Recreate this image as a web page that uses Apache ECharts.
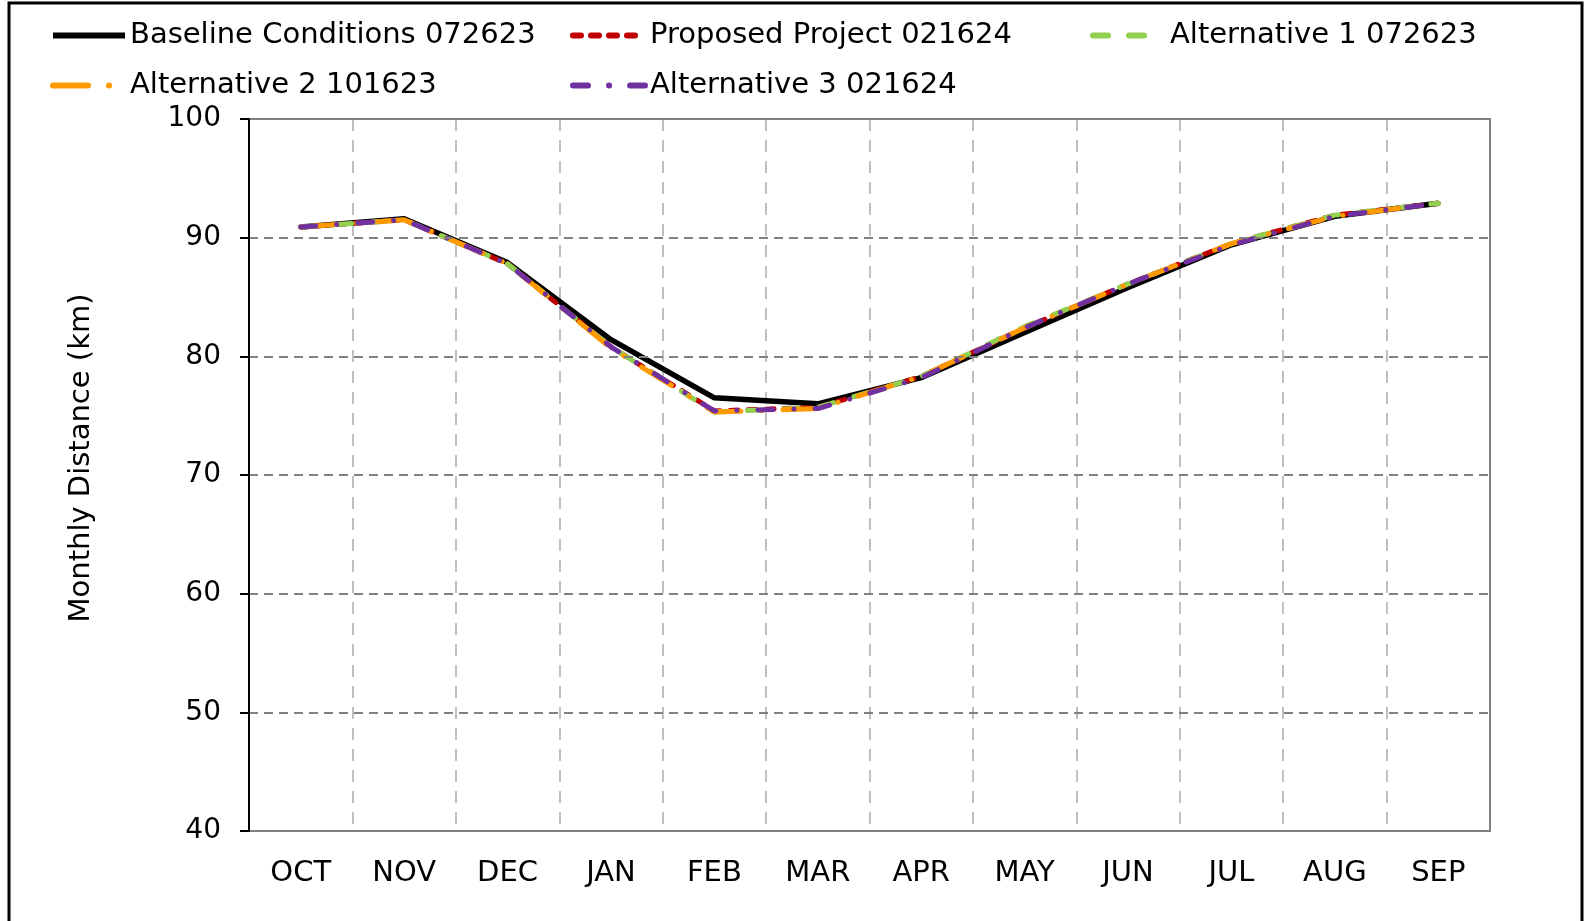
<!DOCTYPE html>
<html>
<head>
<meta charset="utf-8">
<script src="https://cdn.jsdelivr.net/npm/echarts@6/dist/echarts.min.js"></script>
<style>
  html, body { margin: 0; padding: 0; background: #fff; }
  #chart { width: 1593px; height: 921px; }
</style>
</head>
<body>
<div id="chart"></div>
<script>
const months = ['OCT', 'NOV', 'DEC', 'JAN', 'FEB', 'MAR', 'APR', 'MAY', 'JUN', 'JUL', 'AUG', 'SEP'];
const baseline = [90.9, 91.6, 87.9, 81.4, 76.5, 76.0, 78.2, 82.0, 85.8, 89.4, 91.8, 92.9];
const proposed = [90.9, 91.5, 87.8, 80.8, 75.4, 75.7, 78.3, 82.4, 86.1, 89.5, 91.9, 92.9];
const alt1 = [90.9, 91.5, 87.8, 80.8, 75.3, 75.7, 78.3, 82.5, 86.1, 89.5, 91.9, 92.9];
const alt2 = [90.9, 91.5, 87.8, 80.7, 75.3, 75.6, 78.3, 82.4, 86.1, 89.5, 91.8, 92.9];
const alt3 = [90.9, 91.5, 87.8, 80.8, 75.4, 75.6, 78.2, 82.4, 86.1, 89.4, 91.8, 92.9];
const yTicks = [40, 100, 10]; // min, max, interval

const font = 'DejaVu Sans';
const chart = echarts.init(document.getElementById('chart'));

function legendAt(name, left, top) {
  return {
    data: [name],
    left: left,
    top: top,
    padding: 0,
    itemWidth: 72,
    itemHeight: 14,
    itemGap: 0,
    itemStyle: { opacity: 0 },
    lineStyle: { width: 6 },
    textStyle: { fontFamily: font, fontSize: 29, color: '#000' },
    selectedMode: false
  };
}

function line(name, data, color, width, dash, cap) {
  return {
    name: name,
    type: 'line',
    data: data,
    symbol: 'none',
    lineStyle: { color: color, width: width, type: dash, cap: cap || 'round', join: 'round' },
    itemStyle: { color: color },
    emphasis: { disabled: true }
  };
}

chart.setOption({
  animation: false,
  legend: [
    legendAt('Baseline Conditions 072623', 50, 21),
    legendAt('Proposed Project 021624', 570, 21),
    legendAt('Alternative 1 072623', 1090, 21),
    legendAt('Alternative 2 101623', 50, 71),
    legendAt('Alternative 3 021624', 570, 71)
  ],
  grid: {
    left: 249, right: 103, top: 119, bottom: 90, z: 3,
    show: true, borderColor: '#808080', borderWidth: 2, backgroundColor: 'transparent'
  },
  xAxis: {
    type: 'category',
    data: months,
    boundaryGap: true,
    axisLine: { lineStyle: { color: '#808080', width: 2 } },
    axisTick: { show: false },
    axisLabel: { fontFamily: font, fontSize: 29, color: '#000', margin: 28 },
    splitLine: { show: true, lineStyle: { color: '#bfbfbf', width: 2, type: [12, 9] } }
  },
  yAxis: {
    type: 'value',
    min: yTicks[0],
    max: yTicks[1],
    interval: yTicks[2],
    z: 4,
    axisLine: { show: true, lineStyle: { color: '#000', width: 2 } },
    axisTick: { show: true, length: 9, lineStyle: { color: '#000', width: 2 } },
    axisLabel: { fontFamily: font, fontSize: 28, color: '#000', margin: 28, padding: [6, 0, 0, 0] },
    splitLine: { show: true, lineStyle: { color: '#808080', width: 2, type: [9, 6] } }
  },
  series: [
    line('Baseline Conditions 072623', baseline, '#000000', 5.5, 'solid', 'butt'),
    line('Proposed Project 021624', proposed, '#c00000', 5, [8, 10]),
    line('Alternative 1 072623', alt1, '#92d050', 5, [15, 21]),
    line('Alternative 2 101623', alt2, '#ff9900', 5, [35, 21, 0.1, 21]),
    line('Alternative 3 021624', alt3, '#7030a0', 5, [15, 21, 0.1, 21])
  ],
  graphic: [
    {
      type: 'rect',
      shape: { x: 9, y: 3, width: 1573, height: 940 },
      style: { fill: 'none', stroke: '#000', lineWidth: 3 },
      silent: true
    },
    {
      type: 'text',
      x: 81,
      y: 458,
      rotation: Math.PI / 2,
      style: {
        text: 'Monthly Distance (km)',
        fontFamily: font,
        fontSize: 29,
        fill: '#000',
        align: 'center',
        verticalAlign: 'middle'
      }
    }
  ]
});
</script>
</body>
</html>
